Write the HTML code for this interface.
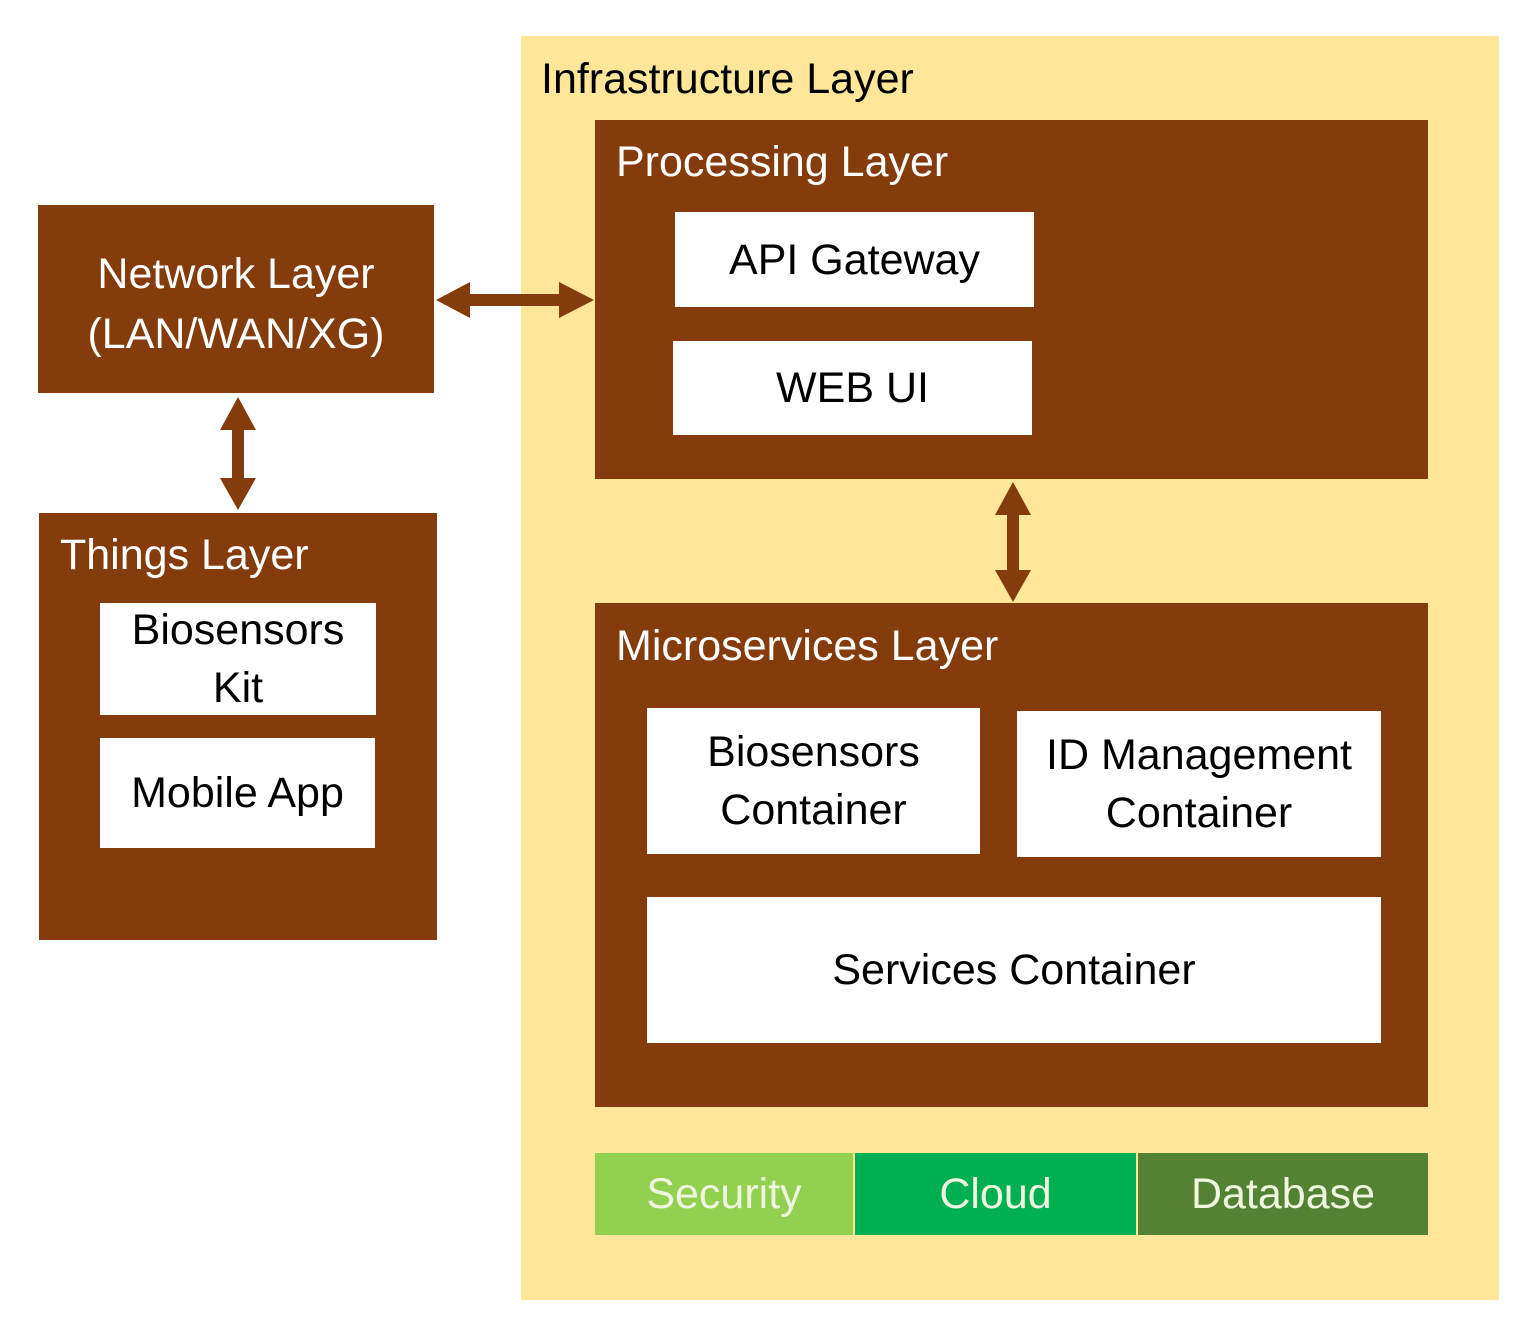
<!DOCTYPE html>
<html><head><meta charset="utf-8"><style>
body{margin:0;width:1536px;height:1340px;background:#fff;position:relative;overflow:hidden;font-family:"Liberation Sans",sans-serif}
div{position:absolute;box-sizing:border-box}
.b{background:#843C0C}
.w{background:#fff;color:#000;display:flex;align-items:center;justify-content:center;text-align:center;font-size:43px;line-height:58px}
.t{color:#fff;font-size:43px;white-space:nowrap}
.g{color:#eef6e0;display:flex;align-items:center;justify-content:center;font-size:43px}
</style></head><body>
<div style="left:521px;top:36px;width:978px;height:1264px;background:#FFE699"></div>
<div class="t" style="left:541px;top:55px;color:#000">Infrastructure Layer</div>
<div class="b" style="left:595px;top:120px;width:833px;height:359px"></div>
<div class="t" style="left:616px;top:138px">Processing Layer</div>
<div class="w" style="left:675px;top:212px;width:359px;height:95px">API Gateway</div>
<div class="w" style="left:673px;top:341px;width:359px;height:94px">WEB UI</div>
<div class="b" style="left:38px;top:205px;width:396px;height:188px"></div>
<div class="t" style="left:38px;top:244px;width:396px;text-align:center;line-height:60px;white-space:normal">Network Layer<br>(LAN/WAN/XG)</div>
<div class="b" style="left:39px;top:513px;width:398px;height:427px"></div>
<div class="t" style="left:60px;top:531px">Things Layer</div>
<div class="w" style="left:100px;top:603px;width:276px;height:112px">Biosensors<br>Kit</div>
<div class="w" style="left:100px;top:738px;width:275px;height:110px">Mobile App</div>
<div class="b" style="left:595px;top:603px;width:833px;height:504px"></div>
<div class="t" style="left:616px;top:622px">Microservices Layer</div>
<div class="w" style="left:647px;top:708px;width:333px;height:146px">Biosensors<br>Container</div>
<div class="w" style="left:1017px;top:711px;width:364px;height:146px">ID Management<br>Container</div>
<div class="w" style="left:647px;top:897px;width:734px;height:146px">Services Container</div>
<div class="g" style="left:595px;top:1153px;width:258px;height:82px;background:#92D050">Security</div>
<div class="g" style="left:855px;top:1153px;width:281px;height:82px;background:#00B050">Cloud</div>
<div class="g" style="left:1138px;top:1153px;width:290px;height:82px;background:#548235">Database</div>
<svg style="position:absolute;left:0;top:0" width="1536" height="1340">
<g fill="#843C0C">
<polygon points="436,300 470,282 470,294 559,294 559,282 594,300 559,318 559,306 470,306 470,318"/>
<polygon points="1013,482 1031,515 1019,515 1019,570 1031,570 1013,602 995,570 1007,570 1007,515 995,515"/>
<polygon points="238,397 256,430 244,430 244,478 256,478 238,510 220,478 232,478 232,430 220,430"/>
</g></svg>
</body></html>
